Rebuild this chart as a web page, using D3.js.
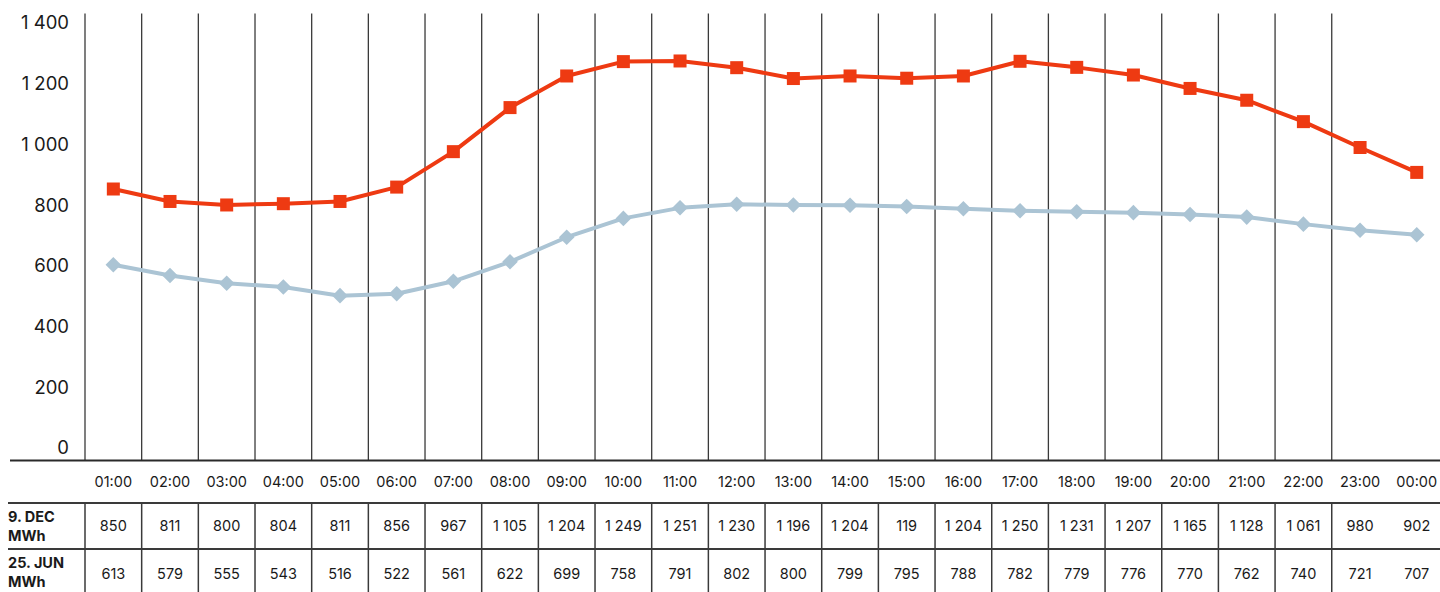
<!DOCTYPE html>
<html>
<head>
<meta charset="utf-8">
<script src="https://cdn.jsdelivr.net/npm/d3@7"></script>
<style>
  html, body { margin: 0; padding: 0; background: #fff; }
  svg { display: block; font-family: "Inter", "Open Sans", sans-serif; }
</style>
</head>
<body>
<svg id="chart" width="1440" height="592"></svg>
<script>
// Hourly consumption, MWh
const hours = ["01:00","02:00","03:00","04:00","05:00","06:00","07:00","08:00","09:00","10:00","11:00","12:00",
               "13:00","14:00","15:00","16:00","17:00","18:00","19:00","20:00","21:00","22:00","23:00","00:00"];
const dec9 = [850, 811, 800, 804, 811, 856, 967, 1105, 1204, 1249, 1251, 1230,
              1196, 1204, 1197, 1204, 1250, 1231, 1207, 1165, 1128, 1061, 980, 902];
const jun25 = [613, 579, 555, 543, 516, 522, 561, 622, 699, 758, 791, 802,
               800, 799, 795, 788, 782, 779, 776, 770, 762, 740, 721, 707];
// Figures as printed in the table row for 9 December
const dec9Table = ["850","811","800","804","811","856","967","1 105","1 204","1 249","1 251","1 230",
                   "1 196","1 204","119","1 204","1 250","1 231","1 207","1 165","1 128","1 061","980","902"];
const yTicks = [0, 200, 400, 600, 800, 1000, 1200, 1400];
const rowLabels = [["9. DEC", "MWh"], ["25. JUN", "MWh"]];

const svg = d3.select("#chart");
const fmt = d3.formatLocale({decimal: ",", thousands: " ", grouping: [3], currency: ["", ""]}).format(",d");

const left = 85, colW = 56.67;
const x = d3.scaleBand().domain(hours).range([left, left + colW * hours.length]);
const y = d3.scaleLinear().domain([0, 1400]).range([460.4, 13.4]);
const yLabel = d3.scaleLinear().domain([0, 1400]).range([448, 23]);

const gridColor = "#3a3a3a";
const textColor = "#1a1a1a";

// vertical grid lines (plot area)
svg.append("g").selectAll("line").data(hours.slice(0, -1))
  .join("line")
  .attr("x1", (d) => x(d)).attr("x2", (d) => x(d))
  .attr("y1", y(1400)).attr("y2", y(0))
  .attr("stroke", gridColor).attr("stroke-width", 1.3);

// y tick labels
svg.append("g").selectAll("text").data(yTicks)
  .join("text")
  .attr("x", 69).attr("y", (d) => yLabel(d))
  .attr("dy", "0.35em")
  .attr("text-anchor", "end")
  .attr("font-size", 18.5).attr("fill", textColor)
  .text((d) => fmt(d));

// baseline
svg.append("line")
  .attr("x1", 10).attr("x2", 1440).attr("y1", y(0)).attr("y2", y(0))
  .attr("stroke", "#2a2a2a").attr("stroke-width", 2);

const cx = (d, i) => x(hours[i]) + x.bandwidth() / 2;

// series lines
const line = d3.line().x((d, i) => x(hours[i]) + x.bandwidth() / 2).y((d) => y(d));
svg.append("path").datum(jun25)
  .attr("d", line).attr("fill", "none")
  .attr("stroke", "#abc4d4").attr("stroke-width", 4).attr("stroke-linejoin", "round");
svg.append("path").datum(dec9)
  .attr("d", line).attr("fill", "none")
  .attr("stroke", "#ee3a12").attr("stroke-width", 4).attr("stroke-linejoin", "round");

// markers
svg.append("g").selectAll("path").data(jun25)
  .join("path")
  .attr("transform", (d, i) => `translate(${cx(d, i)},${y(d)}) rotate(45)`)
  .attr("d", "M-5.5,-5.5H5.5V5.5H-5.5Z")
  .attr("fill", "#abc4d4");
svg.append("g").selectAll("rect").data(dec9)
  .join("rect")
  .attr("x", (d, i) => cx(d, i) - 6.5).attr("y", (d) => y(d) - 6.5)
  .attr("width", 13).attr("height", 13)
  .attr("fill", "#ee3a12");

// hour labels
svg.append("g").selectAll("text").data(hours)
  .join("text")
  .attr("x", (d) => x(d) + x.bandwidth() / 2).attr("y", 482)
  .attr("dy", "0.35em").attr("text-anchor", "middle")
  .attr("font-size", 14.5).attr("fill", textColor)
  .text((d) => d);

// data table
const rowTop = [503, 549], rowBottom = 592;
const table = svg.append("g");
rowTop.forEach((yy) => {
  table.append("line").attr("x1", 8).attr("x2", 1440).attr("y1", yy).attr("y2", yy)
    .attr("stroke", gridColor).attr("stroke-width", 1.8);
});
table.selectAll("line.col").data(hours.slice(0, -1))
  .join("line").attr("class", "col")
  .attr("x1", (d) => x(d)).attr("x2", (d) => x(d))
  .attr("y1", 503).attr("y2", rowBottom)
  .attr("stroke", gridColor).attr("stroke-width", 1.5);

rowLabels.forEach((lbl, r) => {
  const t = table.append("text").attr("font-size", 14.5)
    .attr("font-weight", "bold").attr("fill", textColor);
  t.append("tspan").attr("x", 8).attr("y", rowTop[r] + 19).text(lbl[0]);
  t.append("tspan").attr("x", 8).attr("y", rowTop[r] + 38).text(lbl[1]);
});

const rowMid = [526, 574];
table.append("g").selectAll("text").data(dec9Table)
  .join("text")
  .attr("x", (d, i) => cx(d, i)).attr("y", rowMid[0])
  .attr("dy", "0.35em").attr("text-anchor", "middle")
  .attr("font-size", 14.5).attr("fill", textColor)
  .text((d) => d);
table.append("g").selectAll("text").data(jun25)
  .join("text")
  .attr("x", (d, i) => cx(d, i)).attr("y", rowMid[1])
  .attr("dy", "0.35em").attr("text-anchor", "middle")
  .attr("font-size", 14.5).attr("fill", textColor)
  .text((d) => fmt(d));
</script>
</body>
</html>
